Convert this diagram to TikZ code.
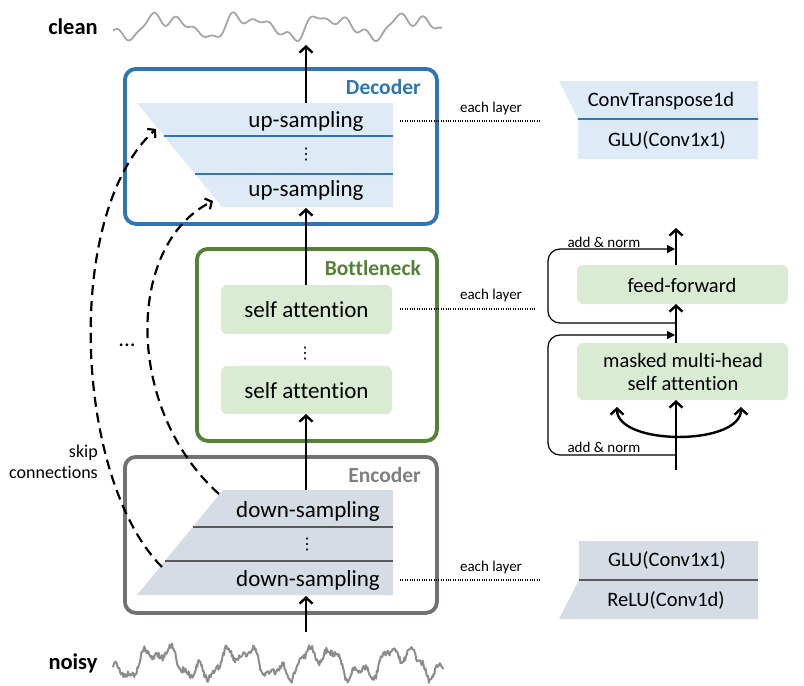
\documentclass[tikz,border=0pt]{standalone}
\usepackage{fontspec}
\setmainfont{Carlito}[Ligatures=CommonOff]
\newfontfamily\symfont{DejaVu Sans}
\usetikzlibrary{arrows.meta}
\definecolor{decblue}{HTML}{2E75B6}
\definecolor{decfill}{HTML}{DEEBF7}
\definecolor{botgreen}{HTML}{548235}
\definecolor{botfill}{HTML}{DAEBD3}
\definecolor{encgray}{HTML}{767171}
\definecolor{enctitle}{HTML}{7F7F7F}
\definecolor{encfill}{HTML}{D6DCE5}
\definecolor{encline}{HTML}{595959}
\definecolor{cleangray}{HTML}{A6A6A6}
\definecolor{noisygray}{HTML}{8C8C8C}
\begin{document}
\begin{tikzpicture}[x=1pt,y=-1pt,
  maintext/.style={font=\fontsize{23}{27}\selectfont, inner sep=0pt},
  sidetext/.style={font=\fontsize{20.5}{24}\selectfont, inner sep=0pt},
  smalltext/.style={font=\fontsize{15}{18}\selectfont, inner sep=0pt},
  boldlabel/.style={font=\bfseries\fontsize{22.5}{27}\selectfont, inner sep=0pt},
  titletext/.style={font=\bfseries\fontsize{21.5}{26}\selectfont, inner sep=0pt, anchor=east},
  frame/.style={rounded corners=11pt, line width=3.8pt, minimum width=#1, inner sep=0pt, anchor=north west},
  greenbox/.style={fill=botfill, rounded corners=6pt, inner sep=0pt},
  flow/.style={line width=2.4pt, -{Straight Barb[length=6pt,width=13pt]}},
  skiparrow/.style={line width=2.2pt, dash pattern=on 10pt off 6pt, -{Straight Barb[length=5pt,width=12pt]}},
  dotline/.style={line width=1.3pt, dash pattern=on 1pt off 1.4pt},
  resline/.style={line width=1.2pt, rounded corners=12pt, -{Triangle[length=8pt,width=8pt]}},
  vdotstext/.style={font=\symfont\fontsize{16}{16}\selectfont, inner sep=0pt}
]
\useasboundingbox (0,0) rectangle (804,686);

% ---------- waves ----------
\pgfmathsetseed{11}
\draw[cleangray, line width=1.8pt, line join=round]
  plot[domain=113:442, samples=330, smooth]
  (\x, {26 - 9*sin(4.3902*(\x-145)) - 4*sin(8.7805*(\x-145)+50) - 3*sin(13.17*(\x-145)+20) - 3*sin(18.902*(\x-113))});
\draw[noisygray, line width=2pt, line join=round]
  plot[domain=113:443, samples=420]
  (\x, {663 - 11*sin(4.5*(\x-140)) - 7*sin(13.333*(\x-113)+30) - 4*sin(25.714*\x) + 3*rand});
\node[boldlabel] (clean) at (73,27) {clean};
\node[boldlabel] (noisy) at (73,663) {noisy};

% ---------- frames ----------
\node[frame=312pt, draw=decblue, minimum height=155pt] (dec) at (123,67) {};
\node[frame=240pt, draw=botgreen, minimum height=192pt] (bot) at (195,247) {};
\node[frame=312pt, draw=encgray, minimum height=156pt] (enc) at (123,455) {};
\node[titletext, text=decblue] (dectitle) at (421,87) {Decoder};
\node[titletext, text=botgreen] (bottitle) at (421,268) {Bottleneck};
\node[titletext, text=enctitle] (enctitle) at (421,475) {Encoder};

% ---------- decoder stack ----------
\fill[decfill] (137,103) -- (393,103) -- (393,207) -- (222,207) -- cycle;
\draw[decblue, line width=1.2pt] (164,136) -- (393,136);
\draw[decblue, line width=1.2pt] (195,174) -- (393,174);
\node[maintext] (up1) at (306,121) {up-sampling};
\node[vdotstext] (updots) at (306,155) {⋮};
\node[maintext] (up2) at (306,190) {up-sampling};
\coordinate (dectop) at (306,103);
\coordinate (decbottom) at (306,208);
\coordinate (cleanin) at (306,45);

% ---------- bottleneck ----------
\node[greenbox, minimum width=171pt, minimum height=49pt] (sa1) at (306.5,309.5) {};
\node[maintext] (sa1t) at (306.5,310) {self attention};
\node[vdotstext] (sadots) at (305,354) {⋮};
\node[greenbox, minimum width=171pt, minimum height=48pt] (sa2) at (306.5,390) {};
\node[maintext] (sa2t) at (306.5,390.5) {self attention};
\coordinate (sa1top) at (306,285);
\coordinate (sa2bot) at (306,414);

% ---------- encoder stack ----------
\fill[encfill] (223,490) -- (393,490) -- (393,595) -- (137,595) -- cycle;
\draw[encline, line width=1.2pt] (193,527) -- (393,527);
\draw[encline, line width=1.2pt] (165,561) -- (393,561);
\node[maintext] (down1) at (308,511) {down-sampling};
\node[vdotstext] (downdots) at (307,545) {⋮};
\node[maintext] (down2) at (308,580) {down-sampling};
\coordinate (enctop) at (306,490);
\coordinate (encbottom) at (306,596);
\coordinate (noisyout) at (306,632);

% ---------- main flow ----------
\draw[flow] (noisyout) -- (encbottom);
\draw[flow] (enctop) -- (sa2bot);
\draw[flow] (sa1top) -- (decbottom);
\draw[flow] (dectop) -- (cleanin);

% ---------- skip connections ----------
\coordinate (skipAs) at (162,567);
\coordinate (skipAe) at (156,129);
\coordinate (skipBs) at (219,494);
\coordinate (skipBe) at (213,201);
\draw[skiparrow] (skipAs) .. controls (75,480) and (62,215) .. (skipAe);
\draw[skiparrow] (skipBs) .. controls (125,410) and (125,245) .. (skipBe);
\node[maintext] (skipdots) at (127,345) {...};
\node[font=\fontsize{18}{21}\selectfont, align=right, inner sep=0pt, anchor=east] (skiplabel) at (98,462) {skip\\connections};

% ---------- each layer links ----------
\coordinate (dl1a) at (400,121); \coordinate (dl1b) at (540,121);
\coordinate (dl2a) at (400,309); \coordinate (dl2b) at (535,309);
\coordinate (dl3a) at (400,580); \coordinate (dl3b) at (540,580);
\draw[dotline] (dl1a) -- (dl1b);
\draw[dotline] (dl2a) -- (dl2b);
\draw[dotline] (dl3a) -- (dl3b);
\node[smalltext] (el1) at (491,108) {each layer};
\node[smalltext] (el2) at (491,295) {each layer};
\node[smalltext] (el3) at (491,567) {each layer};

% ---------- decoder layer detail ----------
\fill[decfill] (559,81) -- (758,81) -- (758,159) -- (578,159) -- (578,119) -- cycle;
\draw[decblue, line width=1.2pt] (578,119) -- (758,119);
\node[sidetext] (convt) at (661,101) {ConvTranspose1d};
\node[sidetext] (glu1) at (667,140) {GLU(Conv1x1)};

% ---------- encoder layer detail ----------
\fill[encfill] (579,541) -- (758,541) -- (758,619) -- (559,619) -- (579,580) -- cycle;
\draw[encline, line width=1.2pt] (579,580) -- (758,580);
\node[sidetext] (glu2) at (667,560) {GLU(Conv1x1)};
\node[sidetext] (relu) at (666,600) {ReLU(Conv1d)};

% ---------- transformer layer detail ----------
\node[greenbox, minimum width=211pt, minimum height=39pt] (ff) at (682.5,284.5) {};
\node[sidetext] (fft) at (682,285) {feed-forward};
\node[greenbox, minimum width=211pt, minimum height=57pt] (mha) at (682.5,371.5) {};
\node[sidetext, align=center, font=\fontsize{20.5}{23}\selectfont] (mhat) at (683,372) {masked multi-head\\self attention};
\coordinate (tin) at (676,470);
\coordinate (mhabot) at (676,400);
\coordinate (mhatop) at (676,343);
\coordinate (ffbot) at (676,304);
\coordinate (fftop) at (676,265);
\coordinate (tout) at (676,228);
\draw[flow] (tin) -- (mhabot);
\draw[flow] (mhatop) -- (ffbot);
\draw[flow] (fftop) -- (tout);
\coordinate (splitL) at (617,407);
\coordinate (splitR) at (741,407);
\draw[line width=2.4pt, {Straight Barb[length=6pt,width=13pt]}-{Straight Barb[length=6pt,width=13pt]}]
  (splitL) .. controls (617,446) and (741,446) .. (splitR);
\coordinate (res1s) at (676,455);
\coordinate (res1e) at (675,335);
\coordinate (res2s) at (676,323);
\coordinate (res2e) at (675,249);
\draw[resline] (res1s) -- (548,455) -- (548,335) -- (res1e);
\draw[resline] (res2s) -- (548,323) -- (548,249) -- (res2e);
\node[smalltext] (an1) at (604,242) {add \& norm};
\node[smalltext] (an2) at (604,447) {add \& norm};
\end{tikzpicture}
\end{document}
